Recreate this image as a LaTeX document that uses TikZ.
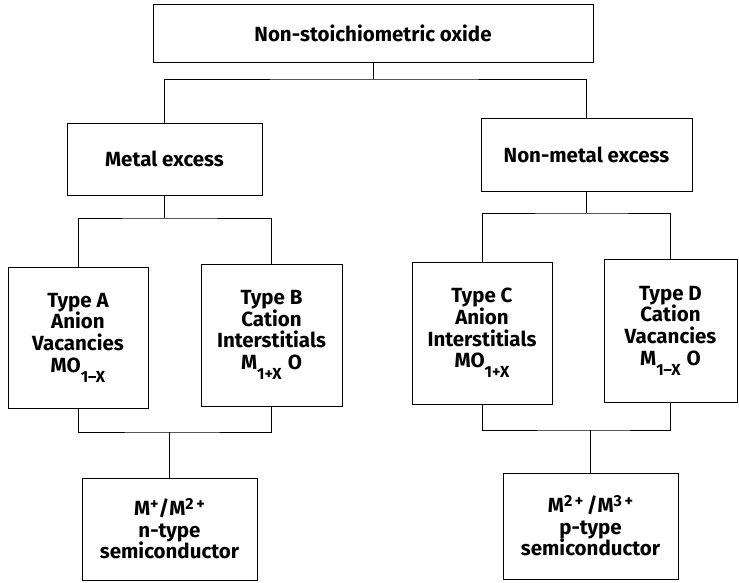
\documentclass[tikz,border=0pt]{standalone}
\usepackage{fontspec}
\setmainfont{Fira Sans}
\usepackage{tikz}
\usetikzlibrary{positioning, calc}

% lowered subscript and raised superscript, a bit larger than the defaults
\newcommand{\lowsub}[1]{\raisebox{-10pt}{\fontsize{16}{16}\selectfont #1}}
\newcommand{\highsup}[1]{\raisebox{6pt}{\fontsize{16}{16}\selectfont #1}}

\tikzset{
  box/.style={draw, line width=0.8pt, align=center,
              font=\fontsize{20.5}{21.6}\selectfont\bfseries},
  link/.style={line width=0.8pt}
}

\begin{document}
\begin{tikzpicture}[x=1pt, y=-1pt]
    \useasboundingbox (0,0) rectangle (739,582);

    % top level
    \node[box, minimum width=440pt, minimum height=58pt] (oxide) at (373,33)
      {Non-stoichiometric oxide};

    % second level
    \node[box, minimum width=195pt, minimum height=72pt] (metal) at (164.5,159)
      {Metal excess};
    \node[box, minimum width=211pt, minimum height=73pt] (nonmetal) at (586.5,154.5)
      {Non-metal excess};

    % defect types
    \node[box, minimum width=140pt, minimum height=141pt] (typeA) at (78,337.5)
      {Type A\\Anion\\Vacancies\\MO\lowsub{1--X}};
    \node[box, minimum width=141pt, minimum height=142pt] (typeB) at (271.5,335)
      {Type B\\Cation\\Interstitials\\M\lowsub{1+X}\hspace{6pt}O};
    \node[box, minimum width=140pt, minimum height=142pt] (typeC) at (482,333)
      {Type C\\Anion\\Interstitials\\MO\lowsub{1+X}};
    \node[box, minimum width=133pt, minimum height=143pt] (typeD) at (670.5,330.5)
      {Type D\\Cation\\Vacancies\\M\lowsub{1--X}\hspace{6pt}O};

    % semiconductors
    \node[box, minimum width=175pt, minimum height=102pt] (ntype) at (169.5,529)
      {M\highsup{+}/M\highsup{2\,+}\\n-type\\semiconductor};
    \node[box, minimum width=175pt, minimum height=106pt] (ptype) at (590.5,526)
      {M\highsup{2\,+}\,/M\highsup{3\,+}\\p-type\\semiconductor};

    % branch points
    \coordinate (j1) at (373,79);
    \coordinate (j2) at (164.5,218);
    \coordinate (j3) at (586.5,213);
    \coordinate (j4) at (169.5,432);
    \coordinate (j5) at (590.5,430);

    \draw[link] (oxide.south) -- (j1);
    \draw[link] (metal.north) |- (j1) -| (nonmetal.north);

    \draw[link] (metal.south) -- (j2);
    \draw[link] (typeA.north) |- (j2) -| (typeB.north);

    \draw[link] (nonmetal.south) -- (j3);
    \draw[link] (typeC.north) |- (j3) -| (typeD.north);

    \draw[link] (typeA.south) |- (j4) -| (typeB.south);
    \draw[link] (j4) -- (ntype.north);

    \draw[link] (typeC.south) |- (j5) -| (typeD.south);
    \draw[link] (j5) -- (ptype.north);
  \end{tikzpicture}
\end{document}
